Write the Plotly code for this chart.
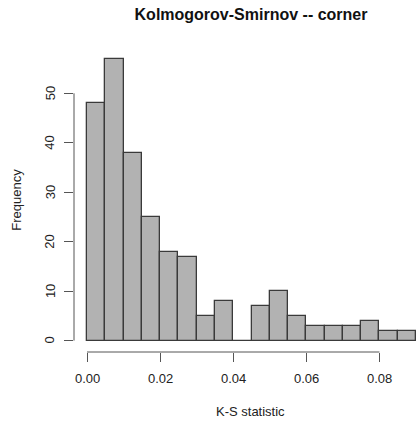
import plotly.graph_objects as go

# Histogram of K-S statistics (bin width 0.005)
bin_width = 0.005
bin_starts = [0.000, 0.005, 0.010, 0.015, 0.020, 0.025, 0.030, 0.035, 0.040,
              0.045, 0.050, 0.055, 0.060, 0.065, 0.070, 0.075, 0.080, 0.085]
counts = [48, 57, 38, 25, 18, 17, 5, 8, 0, 7, 10, 5, 3, 3, 3, 4, 2, 2]

x_ticks = [0.00, 0.02, 0.04, 0.06, 0.08]
x_tick_labels = ["0.00", "0.02", "0.04", "0.06", "0.08"]
y_ticks = [0, 10, 20, 30, 40, 50]
y_tick_labels = ["0", "10", "20", "30", "40", "50"]

centers = [s + bin_width / 2 for s in bin_starts]

FONT = "Liberation Sans, Arial, Helvetica, sans-serif"
AXIS_COL = "#555555"
TEXT_COL = "#222222"

fig = go.Figure(
    go.Bar(
        x=centers,
        y=counts,
        width=bin_width,
        marker=dict(color="#b2b2b2", line=dict(color="#3a3a3a", width=1.3)),
        hoverinfo="x+y",
    )
)

W, H = 416, 421
left, right, top, bottom = 74, 0, 30, 421 - 352.5
plot_w = W - left - right
plot_h = H - top - bottom


def px_to_paper_x(px):
    return (px - left) / plot_w


def px_to_paper_y(py):
    return (H - bottom - py) / plot_h


fig.update_layout(
    width=W,
    height=H,
    margin=dict(l=left, r=right, t=top, b=bottom, pad=0),
    paper_bgcolor="white",
    plot_bgcolor="white",
    showlegend=False,
    bargap=0,
    font=dict(family=FONT, size=13, color=TEXT_COL),
    title=dict(
        text="<b>Kolmogorov-Smirnov -- corner</b>",
        x=251 / W,
        xanchor="center",
        y=1 - 14 / H,
        yanchor="middle",
        font=dict(family=FONT, size=16, color="#111111"),
    ),
)

fig.update_xaxes(
    range=[-0.00356, 0.0900],
    tickvals=x_ticks,
    ticks="outside",
    ticklen=9,
    tickwidth=1,
    tickcolor=AXIS_COL,
    showticklabels=False,
    showline=False,
    showgrid=False,
    zeroline=False,
)

fig.update_yaxes(
    range=[-2.31, 62.8],
    tickvals=y_ticks,
    ticks="outside",
    ticklen=9,
    tickwidth=1,
    tickcolor=AXIS_COL,
    showticklabels=False,
    showline=False,
    showgrid=False,
    zeroline=False,
)

# R-style axis lines spanning only the first to last tick
fig.add_shape(type="line", xref="x", yref="paper",
              x0=x_ticks[0], x1=x_ticks[-1], y0=0, y1=0,
              line=dict(color=AXIS_COL, width=1))
fig.add_shape(type="line", xref="paper", yref="y",
              x0=0, x1=0, y0=y_ticks[0], y1=y_ticks[-1],
              line=dict(color=AXIS_COL, width=1))

# Tick labels, placed in the R style (y labels parallel to the axis)
for v, t in zip(x_ticks, x_tick_labels):
    fig.add_annotation(x=v, xref="x", y=0, yref="paper", text=t,
                       showarrow=False, xanchor="center", yanchor="middle",
                       yshift=-26, font=dict(size=13, color=TEXT_COL))
for v, t in zip(y_ticks, y_tick_labels):
    fig.add_annotation(x=0, xref="paper", y=v, yref="y", text=t,
                       showarrow=False, xanchor="center", yanchor="middle",
                       xshift=-24, textangle=-90,
                       font=dict(size=13, color=TEXT_COL))

# Axis titles
fig.add_annotation(x=px_to_paper_x(250), xref="paper",
                   y=px_to_paper_y(412), yref="paper",
                   yanchor="middle", xanchor="center", text="K-S statistic",
                   showarrow=False, font=dict(size=13, color=TEXT_COL))
fig.add_annotation(x=px_to_paper_x(17), xref="paper",
                   y=px_to_paper_y(200), yref="paper",
                   yanchor="middle", xanchor="center", text="Frequency",
                   textangle=-90, showarrow=False,
                   font=dict(size=13, color=TEXT_COL))

fig.write_html("out.html")
